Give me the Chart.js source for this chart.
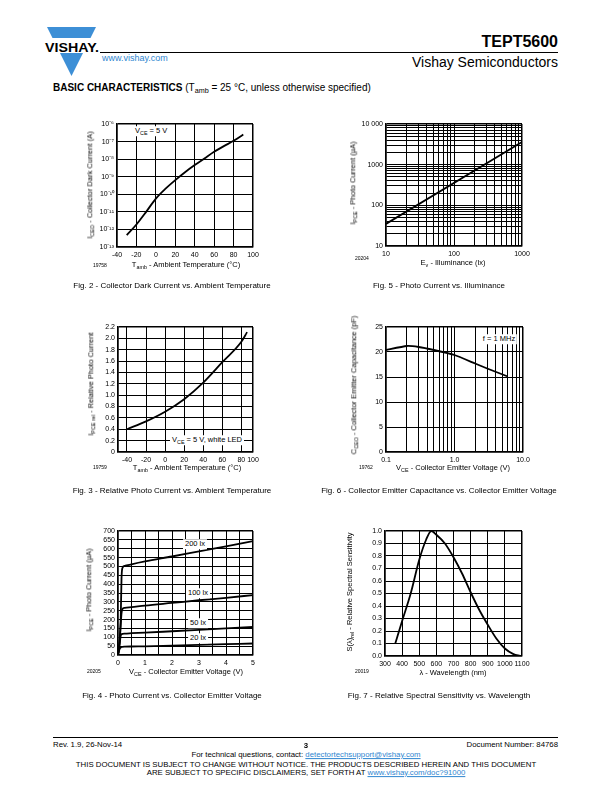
<!DOCTYPE html>
<html>
<head>
<meta charset="utf-8">
<title>TEPT5600 - Basic Characteristics</title>
<script src="https://cdn.jsdelivr.net/npm/chart.js@4.4.1/dist/chart.umd.min.js"></script>
<style>
body { margin: 0; background: #fff; }
#page { position: relative; width: 612px; height: 792px; overflow: hidden; font-family: 'Liberation Sans', Arial, sans-serif; color: #000; }
.t { position: absolute; white-space: nowrap; line-height: 1; }
.t sub { font-size: 72%; vertical-align: -0.3em; line-height: 0; }
.ax { font-size: 7.5px; }
.num { font-size: 5px; }
.cap { font-size: 8px; }
.note { font-size: 7.5px; background: #fff; padding: 1px 2px; }
.foot { font-size: 7.8px; }
canvas { position: absolute; }
.blue { color: #2f86d0; }
.link { color: #2f86d0; text-decoration: underline; }
.rule { position: absolute; height: 1px; background: #000; }
</style>
</head>
<body>
<div id="page">
  <svg style="position:absolute;left:44px;top:26px" width="58" height="52">
    <polygon points="3,1 52,1 27.5,50" fill="#3d8fd6"/>
    <rect x="0" y="12" width="58" height="15" fill="#fff"/>
    <text x="28" y="25.5" font-family="Liberation Sans, Arial, sans-serif" font-weight="bold" font-size="13" text-anchor="middle" textLength="54" lengthAdjust="spacingAndGlyphs">VISHAY.</text>
  </svg>
  <div class="rule" style="left:100px;top:52px;width:458px;"></div>
  <div class="rule" style="left:53px;top:737px;width:505px;"></div>
</div>

<script>
// ---- Fig. 2: collector dark current vs. ambient temperature
const darkTemp = [-30, -20, -10, 0, 10, 20, 30, 40, 50, 60, 70, 80, 90];
const darkCurrent = [4.7e-13, 1.9e-12, 1.0e-11, 5.7e-11, 2.1e-10, 6.4e-10, 1.8e-9, 4.6e-9, 1.1e-8, 2.6e-8, 5.5e-8, 1.1e-7, 2.5e-7];
const darkTempTicks = [-40, -20, 0, 20, 40, 60, 80, 100];
const darkCurrentTicks = [1e-13, 1e-12, 1e-11, 1e-10, 1e-9, 1e-8, 1e-7, 1e-6];

// ---- Fig. 5: photo current vs. illuminance
const illuminance = [10, 1000];
const photoCurrent = [35, 3600];
const luxLabels = [10, 100, 1000];
const photoLabels = [10, 100, 1000, 10000];

// ---- Fig. 3: relative photo current vs. ambient temperature
const relTemp = [-40, -20, 0, 20, 40, 60, 80, 86];
const relCurrent = [0.40, 0.54, 0.71, 0.93, 1.22, 1.58, 1.94, 2.11];
const relTempTicks = [-49.4, -40, -20, 0, 20, 40, 60, 80, 92.2];
const relTempLabels = ['', '-40', '-20', '0', '20', '40', '60', '80', '100'];
const relCurrentTicks = [0, 0.2, 0.4, 0.6, 0.8, 1.0, 1.2, 1.4, 1.6, 1.8, 2.0, 2.2];

// ---- Fig. 6: collector emitter capacitance vs. collector emitter voltage
const capVoltage = [0.1, 0.2, 0.3, 0.5, 1, 2, 3, 6];
const capacitance = [20.4, 21.2, 21.0, 20.4, 19.4, 17.7, 16.7, 15.1];
const capVoltageLabels = ['0.1', '1.0', '10.0'];
const capTicks = [0, 5, 10, 15, 20, 25];

// ---- Fig. 4: photo current vs. collector emitter voltage
const vce = [0, 0.05, 0.1, 0.13, 0.16, 0.25, 0.5, 1, 2, 3, 4, 5];
const current20 = [0, 30, 42, 45, 46, 47, 48, 49, 53, 57, 61, 65];
const current50 = [0, 50, 108, 116, 119, 121, 123, 126, 134, 142, 150, 158];
const current100 = [0, 60, 170, 235, 258, 266, 270, 279, 294, 309, 323, 338];
const current200 = [0, 60, 200, 430, 490, 503, 512, 528, 556, 585, 613, 643];
const vceTicks = [0, 0.5, 1, 1.5, 2, 2.5, 3, 3.5, 4, 4.5, 5];
const vceLabels = [0, 1, 2, 3, 4, 5];
const currentTicks = [0, 50, 100, 150, 200, 250, 300, 350, 400, 450, 500, 550, 600, 650, 700];

// ---- Fig. 7: relative spectral sensitivity vs. wavelength
const wavelength = [360, 400, 450, 500, 540, 570, 600, 650, 700, 750, 800, 850, 900, 950, 1000, 1050, 1090];
const sensitivity = [0.10, 0.28, 0.50, 0.77, 0.93, 1.00, 0.97, 0.90, 0.79, 0.66, 0.51, 0.37, 0.25, 0.14, 0.06, 0.015, 0.0];
const wavelengthTicks = [300, 400, 500, 600, 700, 800, 900, 1000, 1100];
const sensitivityTicks = [0, 0.1, 0.2, 0.3, 0.4, 0.5, 0.6, 0.7, 0.8, 0.9, 1.0];

const page = document.getElementById('page');
const AXIS_W = 40;
const AXIS_H = 14;
const PAD_T = 8;
const PAD_R = 14;

Chart.defaults.font.family = "'Liberation Sans', Arial, sans-serif";
Chart.defaults.color = '#000';

// Text helpers
function placeText(html, x, y, cls, mode) {
    const el = document.createElement('div');
    el.className = 't ' + (cls || '');
    el.innerHTML = html;
    el.style.left = x + 'px';
    el.style.top = y + 'px';
    if (mode === 'left') el.style.transform = 'translate(0,-50%)';
    else if (mode === 'right') el.style.transform = 'translate(-100%,-50%)';
    else if (mode === 'vert') el.style.transform = 'translate(-50%,-50%) rotate(-90deg)';
    else el.style.transform = 'translate(-50%,-50%)';
    page.appendChild(el);
    return el;
}

const SUP = { '-': '\u207B', '0': '\u2070', '1': '\u00B9', '2': '\u00B2', '3': '\u00B3', '4': '\u2074', '5': '\u2075', '6': '\u2076', '7': '\u2077', '8': '\u2078', '9': '\u2079' };
function pow10Label(v) {
    const e = String(Math.round(Math.log10(v)));
    return '10' + e.split('').map(c => SUP[c]).join('');
}

// gridlines at 1..9 x each decade
function logGrid(min, max) {
    const out = [];
    for (let d = min; d < max; d *= 10) {
        for (let k = 1; k < 10; k++) out.push(d * k);
    }
    out.push(max);
    return out;
}

function near(a, b) {
    return Math.abs(a - b) <= Math.abs(b) * 1e-6;
}

function axis(type, min, max, gridValues, labelFn, isX) {
    return {
        type: type,
        min: min,
        max: max,
        afterBuildTicks: scale => {
            scale.ticks = gridValues.map(v => ({ value: v }));
        },
        afterFit: scale => {
            if (isX) scale.height = AXIS_H;
            else scale.width = AXIS_W;
        },
        ticks: {
            autoSkip: false,
            maxRotation: 0,
            minRotation: 0,
            padding: isX ? 4 : 3,
            color: '#000',
            font: { size: 7 },
            callback: (value, index) => labelFn(value, index)
        },
        grid: {
            color: '#000',
            drawTicks: false,
            lineWidth: ctx => (ctx.tick && (near(ctx.tick.value, min) || near(ctx.tick.value, max))) ? 1.5 : 1
        },
        border: { color: '#000', width: 1.5 }
    };
}

function series(xs, ys, tension) {
    const ds = {
        data: xs.map((x, i) => ({ x: x, y: ys[i] })),
        borderColor: '#000',
        borderWidth: 1.8,
        pointRadius: 0,
        fill: false
    };
    if (tension === undefined) ds.cubicInterpolationMode = 'monotone';
    else ds.tension = tension;
    return ds;
}

function makeChart(box, xAxis, yAxis, datasets) {
    const canvas = document.createElement('canvas');
    canvas.width = (box.R - box.L) + AXIS_W + PAD_R;
    canvas.height = (box.B - box.T) + PAD_T + AXIS_H;
    canvas.style.left = (box.L - AXIS_W) + 'px';
    canvas.style.top = (box.T - PAD_T) + 'px';
    page.appendChild(canvas);

    return new Chart(canvas.getContext('2d'), {
        type: 'line',
        data: { datasets: datasets },
        options: {
            responsive: false,
            animation: false,
            layout: { padding: { top: PAD_T, right: PAD_R, left: 0, bottom: 0 } },
            plugins: { legend: { display: false }, tooltip: { enabled: false } },
            scales: { x: xAxis, y: yAxis }
        }
    });
}

// Header
placeText('TEPT5600', 558, 42, '', 'right').style.cssText += 'font-weight:bold;font-size:16px;';
placeText('Vishay Semiconductors', 558, 62, '', 'right').style.fontSize = '14px';
placeText('www.vishay.com', 102, 58, 'blue', 'left').style.fontSize = '9px';
placeText('<b>BASIC CHARACTERISTICS</b> (T<sub>amb</sub> = 25 \u00B0C, unless otherwise specified)', 53, 88, '', 'left').style.fontSize = '10px';

// Fig. 2
makeChart({ L: 117, T: 124, R: 253, B: 247 },
    axis('linear', -40, 100, darkTempTicks, v => String(v), true),
    axis('logarithmic', 1e-13, 1e-6, darkCurrentTicks, v => pow10Label(v), false),
    [series(darkTemp, darkCurrent)]);
placeText('I<sub>CEO</sub> - Collector Dark Current (A)', 90, 185, 'ax', 'vert');
placeText('T<sub>amb</sub> - Ambient Temperature (\u00B0C)', 186, 265, 'ax');
placeText('19758', 93, 265, 'num', 'left');
placeText('V<sub>CE</sub> = 5 V', 133, 131, 'note', 'left');
placeText('Fig. 2 - Collector Dark Current vs. Ambient Temperature', 172, 286, 'cap');

// Fig. 5
makeChart({ L: 386, T: 124, R: 522, B: 246 },
    axis('logarithmic', 10, 1000, logGrid(10, 1000), v => luxLabels.some(l => near(v, l)) ? String(Math.round(v)) : '', true),
    axis('logarithmic', 10, 10000, logGrid(10, 10000), v => photoLabels.some(l => near(v, l)) ? (Math.round(v) === 10000 ? '10 000' : String(Math.round(v))) : '', false),
    [series(illuminance, photoCurrent, 0)]);
placeText('I<sub>PCE</sub> - Photo Current (\u00B5A)', 353, 183, 'ax', 'vert');
placeText('E<sub>v</sub> - Illuminance (lx)', 453, 263, 'ax');
placeText('20204', 355, 258, 'num', 'left');
placeText('Fig. 5 - Photo Current vs. Illuminance', 439, 286, 'cap');

// Fig. 3
makeChart({ L: 118, T: 327, R: 253, B: 452 },
    axis('linear', -49.4, 92.2, relTempTicks, (v, i) => relTempLabels[i], true),
    axis('linear', 0, 2.2, relCurrentTicks, v => v === 0 ? '0' : v.toFixed(1), false),
    [series(relTemp, relCurrent)]);
placeText('I<sub>PCE rel</sub> - Relative Photo Current', 91, 384, 'ax', 'vert');
placeText('T<sub>amb</sub> - Ambient Temperature (\u00B0C)', 187, 468, 'ax');
placeText('19759', 93, 467, 'num', 'left');
placeText('V<sub>CE</sub> = 5 V, white LED', 207, 440, 'note');
placeText('Fig. 3 - Relative Photo Current vs. Ambient Temperature', 172, 491, 'cap');

// Fig. 6
makeChart({ L: 386, T: 327, R: 523, B: 452 },
    axis('logarithmic', 0.1, 10, logGrid(0.1, 10), v => near(v, 0.1) ? capVoltageLabels[0] : near(v, 1) ? capVoltageLabels[1] : near(v, 10) ? capVoltageLabels[2] : '', true),
    axis('linear', 0, 25, capTicks, v => String(v), false),
    [series(capVoltage, capacitance, 0.15)]);
placeText('C<sub>CEO</sub> - Collector Emitter Capacitance (pF)', 354, 385, 'ax', 'vert');
placeText('V<sub>CE</sub> - Collector Emitter Voltage (V)', 453, 468, 'ax');
placeText('19762', 359, 467, 'num', 'left');
placeText('f = 1 MHz', 499, 339, 'note');
placeText('Fig. 6 - Collector Emitter Capacitance vs. Collector Emitter Voltage', 439, 491, 'cap');

// Fig. 4
makeChart({ L: 118, T: 531, R: 253, B: 655 },
    axis('linear', 0, 5, vceTicks, v => vceLabels.includes(v) ? String(v) : '', true),
    axis('linear', 0, 700, currentTicks, v => String(v), false),
    [series(vce, current20), series(vce, current50), series(vce, current100), series(vce, current200)]);
placeText('I<sub>PCE</sub> - Photo Current (\u00B5A)', 89, 590, 'ax', 'vert');
placeText('V<sub>CE</sub> - Collector Emitter Voltage (V)', 186, 672, 'ax');
placeText('20205', 87, 671, 'num', 'left');
placeText('200 lx', 195, 544, 'note');
placeText('100 lx', 198, 593, 'note');
placeText('50 lx', 198, 623, 'note');
placeText('20 lx', 198, 638, 'note');
placeText('Fig. 4 - Photo Current vs. Collector Emitter Voltage', 172, 696, 'cap');

// Fig. 7
makeChart({ L: 385, T: 531, R: 522, B: 656 },
    axis('linear', 300, 1100, wavelengthTicks, v => String(v), true),
    axis('linear', 0, 1, sensitivityTicks, v => v.toFixed(1), false),
    [series(wavelength, sensitivity)]);
placeText('S(\u03BB)<sub>rel</sub> - Relative Spectral Sensitivity', 350, 592, 'ax', 'vert');
placeText('\u03BB - Wavelength (nm)', 453, 673, 'ax');
placeText('20019', 355, 671, 'num', 'left');
placeText('Fig. 7 - Relative Spectral Sensitivity vs. Wavelength', 439, 696, 'cap');

// Footer
placeText('Rev. 1.9, 26-Nov-14', 53, 745, 'foot', 'left');
placeText('<b>3</b>', 306, 746, 'foot');
placeText('Document Number: 84768', 558, 745, 'foot', 'right');
placeText('For technical questions, contact: <span class="link">detectortechsupport@vishay.com</span>', 306, 755, 'foot');
placeText('THIS DOCUMENT IS SUBJECT TO CHANGE WITHOUT NOTICE. THE PRODUCTS DESCRIBED HEREIN AND THIS DOCUMENT', 306, 765, 'foot');
placeText('ARE SUBJECT TO SPECIFIC DISCLAIMERS, SET FORTH AT <span class="link">www.vishay.com/doc?91000</span>', 306, 773, 'foot');
</script>
</body>
</html>
